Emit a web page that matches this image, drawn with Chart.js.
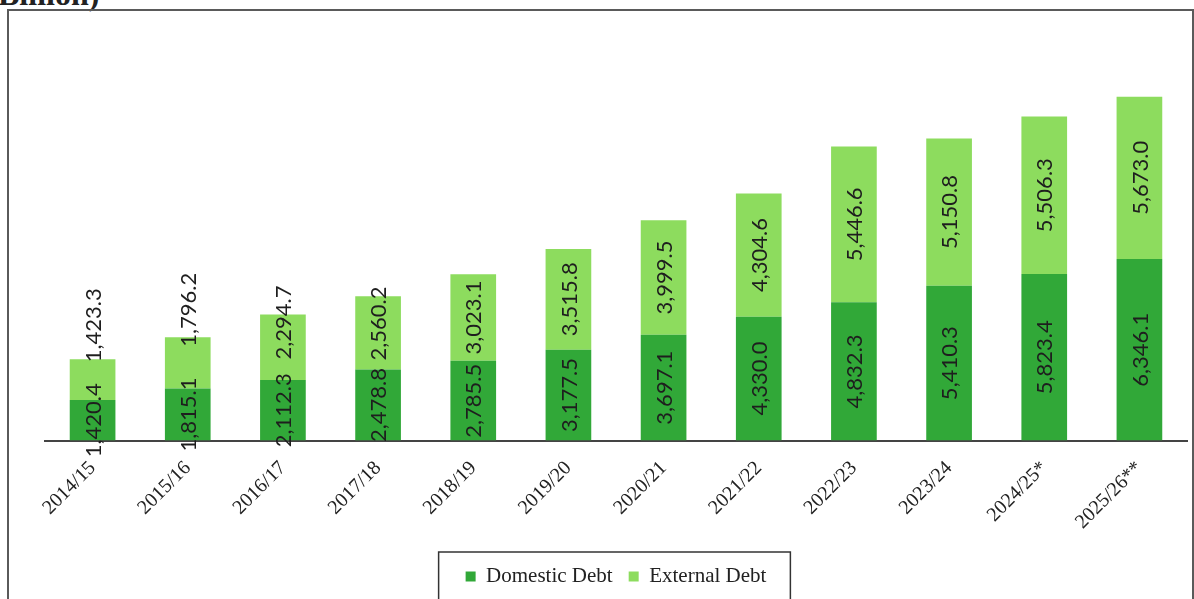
<!DOCTYPE html>
<html>
<head>
<meta charset="utf-8">
<script src="https://cdn.jsdelivr.net/npm/chart.js@4.4.1/dist/chart.umd.min.js"></script>
<style>
  html, body { margin: 0; padding: 0; background: #fff; overflow: hidden; }
  #wrap { position: relative; width: 1194px; height: 599px; }
  #frame { position: absolute; left: 7px; top: 9px; width: 1183px; height: 620px; border: 2px solid #5a5a5a; }
  #title { position: absolute; left: -2px; top: -24px; font: bold 32px "Liberation Serif", serif; color: #222; }
  #chart { position: absolute; left: 0; top: 0; }
</style>
</head>
<body>
<div id="wrap">
  <div id="title">Billion)</div>
  <div id="frame"></div>
  <canvas id="chart" width="1194" height="599"></canvas>
</div>
<script>
const ctx = document.getElementById('chart').getContext('2d');

// fiscal years
const years = ['2014/15', '2015/16', '2016/17', '2017/18', '2018/19', '2019/20',
  '2020/21', '2021/22', '2022/23', '2023/24', '2024/25*', '2025/26**'];

// debt stock (billion)
const domesticDebt = [1420.4, 1815.1, 2112.3, 2478.8, 2785.5, 3177.5,
  3697.1, 4330.0, 4832.3, 5410.3, 5823.4, 6346.1];
const externalDebt = [1423.3, 1796.2, 2294.7, 2560.2, 3023.1, 3515.8,
  3999.5, 4304.6, 5446.6, 5150.8, 5506.3, 5673.0];

const fmt = v => v.toLocaleString('en-US', { minimumFractionDigits: 1, maximumFractionDigits: 1 });

// vertical value labels inside each segment
const segmentLabels = {
  id: 'segmentLabels',
  afterDatasetsDraw(chart) {
    const c = chart.ctx;
    c.save();
    c.font = '22px Lato, sans-serif';
    c.fillStyle = '#1e1e1e';
    c.textAlign = 'center';
    c.textBaseline = 'middle';
    chart.data.datasets.forEach((ds, di) => {
      const meta = chart.getDatasetMeta(di);
      meta.data.forEach((bar, i) => {
        const text = fmt(ds.data[i]);
        const len = c.measureText(text).width;
        const top = Math.min(bar.y, bar.base);
        const h = Math.abs(bar.base - bar.y);
        let cy = top + h / 2;
        // tight external labels get nudged up, but not past the bar top
        if (di === 1) {
          const shift = Math.max(0, (len - h + 4) * 2);
          cy = Math.max(cy - shift, top + 3 - len / 2);
        }
        c.save();
        c.translate(bar.x + 1, cy);
        c.rotate(-Math.PI / 2);
        c.fillText(text, 0, 0);
        c.restore();
      });
    });
    c.restore();
  }
};

// border around the legend
const legendBox = {
  id: 'legendBox',
  afterDraw(chart) {
    const boxes = chart.legend.legendHitBoxes;
    if (!boxes || !boxes.length) return;
    const left = Math.min(...boxes.map(b => b.left)) - 27;
    const right = Math.max(...boxes.map(b => b.left + b.width)) + 24;
    const top = Math.min(...boxes.map(b => b.top)) - 14;
    const bottom = Math.max(...boxes.map(b => b.top + b.height)) + 14;
    const c = chart.ctx;
    c.save();
    c.strokeStyle = '#333';
    c.lineWidth = 1.5;
    c.strokeRect(left, top, right - left, bottom - top);
    c.restore();
  }
};

new Chart(ctx, {
  type: 'bar',
  data: {
    labels: years,
    datasets: [
      {
        label: 'Domestic Debt',
        data: domesticDebt,
        backgroundColor: '#31a838',
        categoryPercentage: 1,
        barPercentage: 0.48
      },
      {
        label: 'External Debt',
        data: externalDebt,
        backgroundColor: '#8ddc5e',
        categoryPercentage: 1,
        barPercentage: 0.48
      }
    ]
  },
  options: {
    responsive: false,
    animation: false,
    layout: { padding: { left: 45, right: 7, top: 40, bottom: 2 } },
    scales: {
      x: {
        stacked: true,
        grid: { display: false, drawTicks: false },
        border: { display: true, color: '#444', width: 2 },
        ticks: {
          color: '#222',
          font: { family: '"Liberation Serif", serif', size: 20 },
          maxRotation: 45,
          minRotation: 45,
          padding: 16
        }
      },
      y: {
        stacked: true,
        display: false,
        min: 0,
        max: 14000
      }
    },
    plugins: {
      legend: {
        position: 'bottom',
        fullSize: false,
        labels: {
          color: '#222',
          font: { family: '"Liberation Serif", serif', size: 21 },
          boxWidth: 10,
          boxHeight: 10,
          padding: 16
        }
      },
      tooltip: { enabled: false }
    }
  },
  plugins: [segmentLabels, legendBox]
});
</script>
</body>
</html>
